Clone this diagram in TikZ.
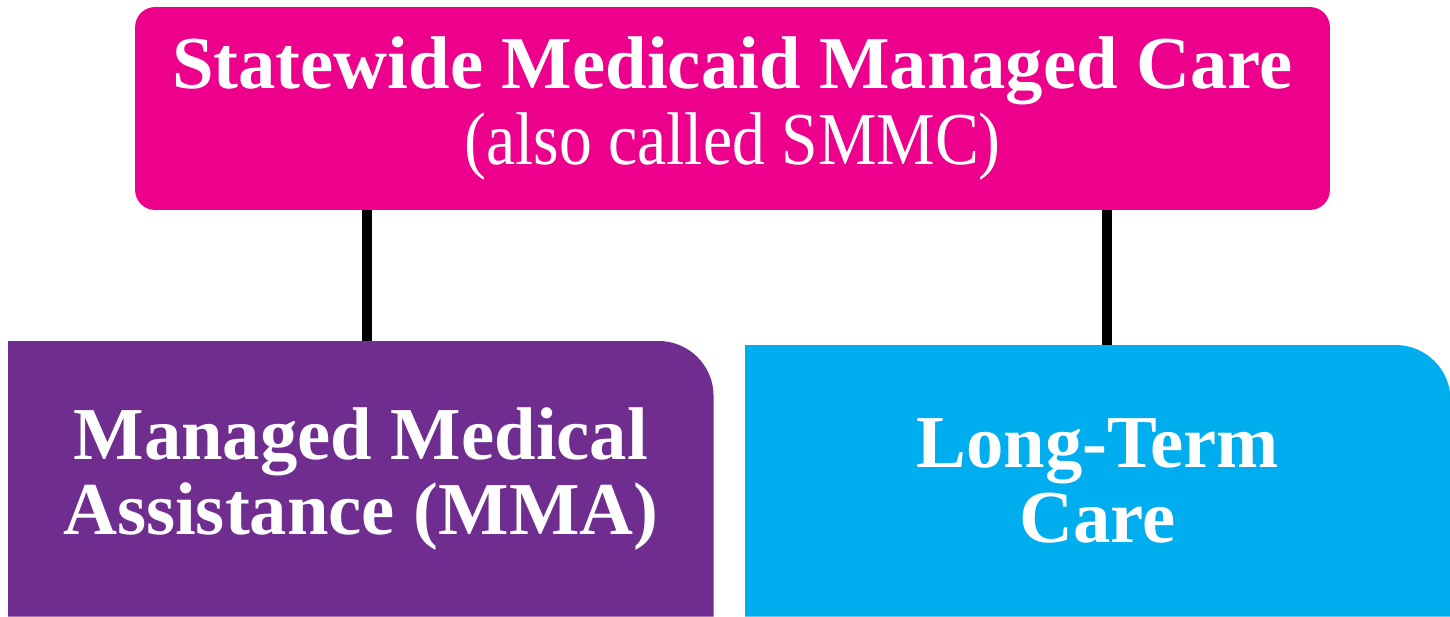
\documentclass[tikz,border=0pt]{standalone}
\usepackage{fontspec}
\setmainfont{Liberation Serif}
\newfontfamily\narrowserif[FakeStretch=0.88]{Liberation Serif}
\usetikzlibrary{positioning, backgrounds}
\definecolor{SMMCpink}{RGB}{236, 0, 140}
\definecolor{MMApurple}{RGB}{110, 45, 143}
\definecolor{LTCblue}{RGB}{0, 174, 239}
\newcommand\bigtext{\fontsize{42.5}{43}\selectfont}

\begin{document}
\begin{tikzpicture}[
            x=0.02cm, y=-0.02cm,
            headbox/.style={rectangle, rounded corners=0.4cm, fill=SMMCpink, text=white,
                        minimum width=23.9cm, minimum height=4.06cm, align=center, font=\bigtext},
            planbox/.style={rectangle, text=white, inner sep=0pt, anchor=north west,
                        minimum width=14.1cm, align=center, font=\bigtext\bfseries},
            link/.style={line width=0.2cm, black}
        ]
            \useasboundingbox (0,0) rectangle (1450,616);

            \node[headbox] (smmc) at (732.5,108.5)
                {\textbf{Statewide Medicaid Managed Care}\\{\narrowserif (also called SMMC)}};
            \node[planbox, minimum height=5.5cm] (mma) at (8,341)
                {Managed Medical\\Assistance (MMA)};
            \node[planbox, minimum height=5.42cm] (ltc) at (745,345)
                {Long-Term\\Care};

            % box fills, top right corner rounded only
            \begin{scope}[on background layer]
                \fill[MMApurple] (mma.south west) -- (mma.north west)
                    -- ([xshift=-1.1cm]mma.north east) arc[start angle=90, end angle=0, radius=1.1cm]
                    -- (mma.south east) -- cycle;
                \fill[LTCblue] (ltc.south west) -- (ltc.north west)
                    -- ([xshift=-1.1cm]ltc.north east) arc[start angle=90, end angle=0, radius=1.1cm]
                    -- (ltc.south east) -- cycle;
            \end{scope}

            \draw[link] ([xshift=0.13cm]mma.north) -- ([xshift=0.13cm]mma.north |- smmc.south);
            \draw[link] ([xshift=0.19cm]ltc.north) -- ([xshift=0.19cm]ltc.north |- smmc.south);
        \end{tikzpicture}
\end{document}
